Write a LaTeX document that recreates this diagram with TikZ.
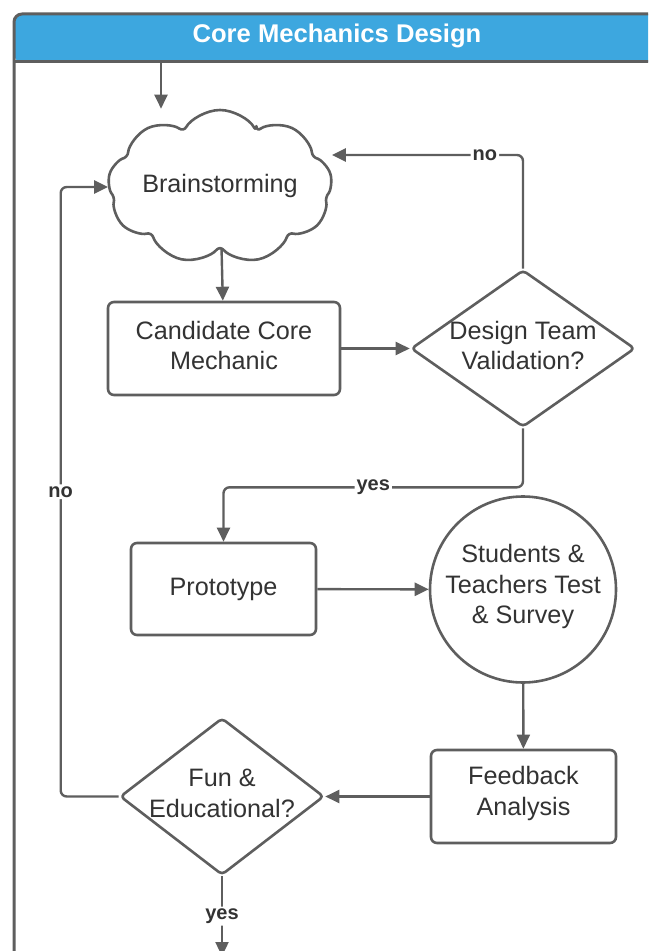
\documentclass[tikz,border=0pt]{standalone}
\usepackage{fontspec}
\setmainfont{Liberation Sans}
\usetikzlibrary{arrows.meta,shapes.geometric,shapes.symbols}
\definecolor{lineg}{HTML}{5E5E5E}
\definecolor{txtg}{HTML}{333333}
\definecolor{hdrblue}{HTML}{3DA7DF}

\begin{document}
\begin{tikzpicture}[x=0.5pt,y=-0.5pt,>={Triangle[length=7pt,width=6.5pt]},line join=round,
  every node/.style={font=\fontsize{12.6}{15.3}\selectfont,text=txtg},
  box/.style={draw=lineg,line width=1.3pt,rounded corners=3pt,fill=white,align=center,inner sep=0pt},
  decision/.style={box,shape=diamond,rounded corners=2pt},
  txt/.style={align=center,yshift=1.5pt},
  flow/.style={draw=lineg,line width=1.2pt,->,rounded corners=3pt},
  lbl/.style={fill=white,inner sep=1pt,font=\bfseries\fontsize{10}{12}\selectfont}]
\useasboundingbox (0,0) rectangle (648,951);
\begin{scope}
\clip (0,0) rectangle (648,951);
% swimlane frame
\fill[hdrblue,rounded corners=4pt] (14,62) -- (14,14) -- (700,14) -- (700,62) -- cycle;
\draw[lineg,line width=1.5pt,rounded corners=4pt] (14,1000) -- (14,14) -- (700,14) -- (700,1000);
\draw[lineg,line width=1.5pt] (14,62) -- (700,62);
\node[text=white,font=\bfseries\fontsize{12.8}{15}\selectfont] (title) at (337,36) {Core Mechanics Design};
% steps
\node[box,shape=cloud,cloud puffs=9,cloud puff arc=125,cloud ignores aspect,minimum width=112pt,minimum height=77pt,label={[yshift=0.5pt]center:Brainstorming}] (bs) at (220,187) {};
\node[box,minimum width=116pt,minimum height=46.5pt,label={[txt]center:Candidate Core\\Mechanic}] (cand) at (224,348.5) {};
\node[decision,minimum width=112pt,minimum height=78.5pt,label={[txt]center:Design Team\\Validation?}] (valid) at (523,348.5) {};
\node[box,minimum width=92.5pt,minimum height=46pt] (proto) at (223.5,589) {Prototype};
\node[box,shape=circle,minimum size=93pt,label={[txt]center:Students \&\\Teachers Test\\\& Survey}] (test) at (523,589.5) {};
\node[box,minimum width=92.5pt,minimum height=46.5pt,label={[txt]center:Feedback\\Analysis}] (feed) at (523.5,796.5) {};
\node[decision,minimum width=102pt,minimum height=78.5pt,label={[txt]center:Fun \&\\Educational?}] (fun) at (222,796.5) {};
\coordinate (entry) at (161,62);
\coordinate (exit) at (222,956);
% connectors
\draw[flow] (entry) -- (entry |- bs.north);
\draw[flow] (bs) -- (cand);
\draw[flow] (cand) -- (valid);
\draw[flow] (valid.north) |- node[lbl,pos=0.6]{no} ([yshift=16pt]bs.east);
\draw[flow] (valid.south) -- ++(0,59) -| node[lbl,pos=0.25]{yes} (proto.north);
\draw[flow] (proto) -- (test);
\draw[flow] (test) -- (feed);
\draw[flow] (feed) -- (fun);
\draw[flow] (fun.west) -- ++(-58,0) |- node[lbl,pos=0.25]{no} (bs.west);
\draw[flow] (fun.south) -- node[lbl,pos=0.5]{yes} (exit);
\end{scope}
\end{tikzpicture}
\end{document}
